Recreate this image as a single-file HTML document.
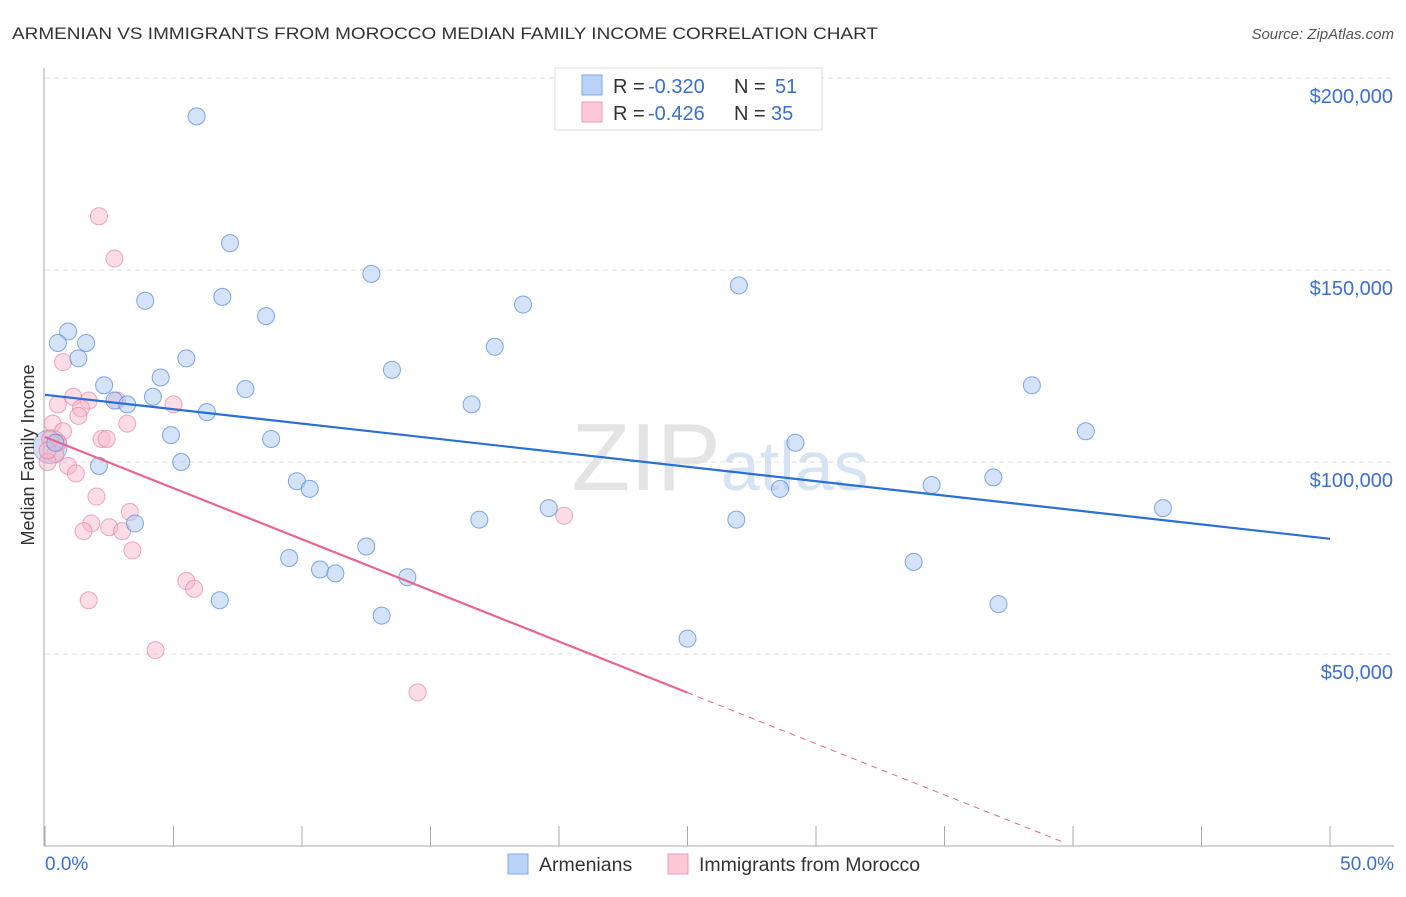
<!DOCTYPE html>
<html><head><meta charset="utf-8"><style>
body{margin:0;background:#fff;font-family:"Liberation Sans",sans-serif}
text{font-family:"Liberation Sans",sans-serif}
</style></head><body>
<svg id="c" width="1406" height="892">
<text x="12" y="39" font-size="17" fill="#333" textLength="866" lengthAdjust="spacingAndGlyphs">ARMENIAN VS IMMIGRANTS FROM MOROCCO MEDIAN FAMILY INCOME CORRELATION CHART</text>
<text x="1394" y="39" font-size="15" fill="#555" text-anchor="end" font-style="italic">Source: ZipAtlas.com</text>
<text x="720" y="490" font-size="96" fill="#e4e4e4" text-anchor="middle" font-family="Liberation Serif">ZIP<tspan fill="#d6e3f4" font-family="Liberation Sans" font-size="70">atlas</tspan></text>
<g id="grid"></g><g id="pts"></g><g id="lines"></g>
<text transform="translate(34,455) rotate(-90)" font-size="18" fill="#333" text-anchor="middle">Median Family Income</text>
<text x="45" y="870" font-size="19" fill="#3a6fd0">0.0%</text>
<text x="1394" y="870" font-size="19" fill="#3a6fd0" text-anchor="end">50.0%</text>
<g>
<rect x="555" y="68" width="267" height="62" fill="#fff" stroke="#ddd"/>
<rect x="582" y="75" width="20" height="20" fill="#b8d3f5" stroke="#7da9e6"/>
<rect x="582" y="102" width="20" height="20" fill="#fbc9d8" stroke="#ee9ab5"/>
<text x="613" y="93" font-size="20" fill="#333">R =</text>
<text x="648" y="93" font-size="20" fill="#3a6fd0">-0.320</text>
<text x="734" y="93" font-size="20" fill="#333">N =</text>
<text x="775" y="93" font-size="20" fill="#3a6fd0">51</text>
<text x="613" y="120" font-size="20" fill="#333">R =</text>
<text x="648" y="120" font-size="20" fill="#3a6fd0">-0.426</text>
<text x="734" y="120" font-size="20" fill="#333">N =</text>
<text x="771" y="120" font-size="20" fill="#3a6fd0">35</text>
</g>
<g>
<rect x="508" y="854" width="20" height="20" fill="#b8d3f5" stroke="#7da9e6"/>
<text x="539" y="871" font-size="19.5" fill="#333">Armenians</text>
<rect x="668" y="854" width="20" height="20" fill="#fbc9d8" stroke="#ee9ab5"/>
<text x="699" y="871" font-size="19.5" fill="#333">Immigrants from Morocco</text>
</g>
</svg>
<script>
const yTicks=[50000,100000,150000,200000];
const yTickLabels=["$50,000","$100,000","$150,000","$200,000"];
const armX=[5.9,7.2,12.7,27.0,3.9,6.9,18.6,8.6,0.9,0.5,1.6,1.3,5.5,17.5,13.5,4.5,2.3,7.8,38.4,4.2,2.7,3.2,16.6,6.3,4.9,8.8,40.5,29.2,0.4,5.3,2.1,36.9,9.8,10.3,34.5,28.6,19.6,43.5,16.9,26.9,3.5,12.5,9.5,33.8,10.7,11.3,14.1,6.8,37.1,13.1,25.0];
const armY=[190,157,149,146,142,143,141,138,134,131,131,127,127,130,124,122,120,119,120,117,116,115,115,113,107,106,108,105,105,100,99,96,95,93,94,93,88,88,85,85,84,78,75,74,72,71,70,64,63,60,54];
const morX=[2.1,2.7,0.7,1.1,1.7,0.5,1.4,2.8,5.0,1.3,0.3,0.7,3.2,2.2,2.4,0.5,0.4,0.9,1.2,2.0,1.8,3.3,2.5,1.5,3.0,3.4,5.5,5.8,1.7,4.3,14.5,20.2,0.1,0.2,0.1];
const morY=[164,153,126,117,116,115,114,116,115,112,110,108,110,106,106,105,102,99,97,91,84,87,83,82,82,77,69,67,64,51,40,86,100,106,103];
const armTrend=[117.5,80];
const morTrend=[106.5,0];
const NS="http://www.w3.org/2000/svg";
const X0=45,X1=1330,Y0=846,PXK=3.84;
const sx=v=>X0+(v/50)*(X1-X0);
const sy=v=>Y0-v*PXK;
function mk(t,a,p){const e=document.createElementNS(NS,t);for(const k in a)e.setAttribute(k,a[k]);p.appendChild(e);return e;}
const g=document.getElementById('grid');
yTicks.forEach((t,i)=>{
 const l=mk('line',{x1:45,x2:1394,y1:sy(t/1000),y2:sy(t/1000),stroke:'#ddd','stroke-dasharray':'5,4'},g);
 
 
 const tx=mk('text',{x:1393,y:sy(t/1000)+25,'font-size':20,fill:'#3a6fd0','text-anchor':'end'},g);
 tx.textContent=yTickLabels[i];
 
 
});
const ax=mk('line',{x1:44,x2:44,y1:68,y2:846,stroke:'#aaa'},g);


const bx=mk('line',{x1:44,x2:1394,y1:846,y2:846,stroke:'#aaa'},g);


for(let i=0;i<=10;i++){
 const t=mk('line',{x1:sx(i*5),x2:sx(i*5),y1:826,y2:846,stroke:'#aaa'},g);
 
 
}
const p=document.getElementById('pts');
const big=mk('circle',{cx:sx(0.2),cy:sy(104),r:17,fill:'rgba(150,170,220,0.4)',stroke:'rgba(110,150,220,0.6)'},p);


morX.forEach((x,i)=>{
 const c=mk('circle',{cx:sx(x),cy:sy(morY[i]),r:8.5,fill:'rgba(248,180,200,0.45)',stroke:'rgba(235,130,165,0.7)'},p);
 
 
});
armX.forEach((x,i)=>{
 const c=mk('circle',{cx:sx(x),cy:sy(armY[i]),r:8.5,fill:'rgba(170,200,240,0.5)',stroke:'rgba(90,140,220,0.75)'},p);
 
 
});
const L=document.getElementById('lines');
const a=mk('line',{x1:sx(0),y1:sy(armTrend[0]),x2:sx(50),y2:sy(armTrend[1]),stroke:'#2a6fd6','stroke-width':2.2},L);


const slope=(morTrend[1]-morTrend[0])/40;
const m1=mk('line',{x1:sx(0),y1:sy(morTrend[0]),x2:sx(25),y2:sy(morTrend[0]+slope*25),stroke:'#e8668f','stroke-width':2.2},L);


const m2=mk('line',{x1:sx(25),y1:sy(morTrend[0]+slope*25),x2:sx(39.7),y2:sy(morTrend[0]+slope*39.7),stroke:'#e8668f','stroke-width':1,'stroke-dasharray':'6,5'},L);


</script>
</body></html>
